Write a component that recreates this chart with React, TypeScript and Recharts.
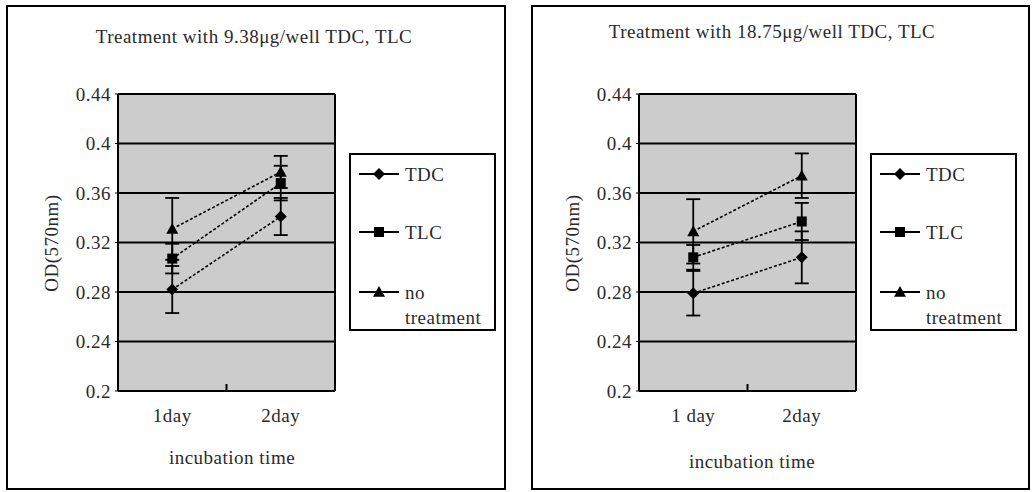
import React from 'react';
import * as R from 'recharts';

const { LineChart, Line, XAxis, YAxis, CartesianGrid, ErrorBar, Legend, Customized } = R as any;

// ---------- data ----------
const yTicks = [0.2, 0.24, 0.28, 0.32, 0.36, 0.4, 0.44];
const seriesKeys = ['tdc', 'tlc', 'nt'];
const seriesNames = ['TDC', 'TLC', 'no treatment'];

const leftTitle = 'Treatment with 9.38μg/well TDC, TLC';
const leftCategories = ['1day', '2day'];
const leftTDC = [0.282, 0.341];
const leftTDCErr = [0.019, 0.015];
const leftTLC = [0.307, 0.368];
const leftTLCErr = [0.012, 0.014];
const leftNT = [0.331, 0.377];
const leftNTErr = [0.025, 0.013];

const rightTitle = 'Treatment with 18.75μg/well TDC, TLC';
const rightCategories = ['1 day', '2day'];
const rightTDC = [0.279, 0.308];
const rightTDCErr = [0.018, 0.021];
const rightTLC = [0.308, 0.337];
const rightTLCErr = [0.01, 0.015];
const rightNT = [0.329, 0.374];
const rightNTErr = [0.026, 0.018];

const yLabel = 'OD(570nm)';
const xLabel = 'incubation time';

function buildRows(cats: string[], tdc: number[], tdcE: number[], tlc: number[], tlcE: number[], nt: number[], ntE: number[]) {
  return cats.map((c, i) => ({
    cat: c,
    tdc: tdc[i], tdcErr: tdcE[i],
    tlc: tlc[i], tlcErr: tlcE[i],
    nt: nt[i], ntErr: ntE[i],
  }));
}

const leftRows = buildRows(leftCategories, leftTDC, leftTDCErr, leftTLC, leftTLCErr, leftNT, leftNTErr);
const rightRows = buildRows(rightCategories, rightTDC, rightTDCErr, rightTLC, rightTLCErr, rightNT, rightNTErr);

// ---------- styles ----------
const FONT = '"Liberation Serif", "Times New Roman", serif';
const TEXT = '#2a2a2a';
const FS = 19;
const LS = 0.5;

function Marker({ kind, cx, cy }: { kind: string; cx: number; cy: number }) {
  if (cx == null || cy == null) return null;
  if (kind === 'tdc') {
    const s = 6;
    return <polygon points={`${cx},${cy - s} ${cx + s},${cy} ${cx},${cy + s} ${cx - s},${cy}`} fill="#000" />;
  }
  if (kind === 'tlc') {
    const s = 5;
    return <rect x={cx - s} y={cy - s} width={2 * s} height={2 * s} fill="#000" />;
  }
  const s = 6;
  return <polygon points={`${cx},${cy - s} ${cx + s},${cy + s * 0.8} ${cx - s},${cy + s * 0.8}`} fill="#000" />;
}

const usePlotAreaHook: any = (R as any).usePlotArea;

function MidTicks({ count }: { count: number }) {
  const pa = usePlotAreaHook ? usePlotAreaHook() : null;
  if (!pa) return null;
  const out: any[] = [];
  for (let i = 1; i < count; i++) {
    const x = pa.x + (pa.width * i) / count;
    out.push(
      <line key={i} x1={x} x2={x} y1={pa.y + pa.height} y2={pa.y + pa.height - 7} stroke="#000" strokeWidth={2} />
    );
  }
  return <g>{out}</g>;
}

function LegendBox({ payload }: any) {
  const rowsTop = [19, 77, 137];
  const items = (payload || []).filter((p: any) => seriesKeys.includes(p.dataKey));
  return (
    <div
      style={{
        width: 147,
        height: 178,
        border: '2px solid #000',
        boxSizing: 'border-box',
        background: '#fff',
        position: 'relative',
        fontFamily: FONT,
        fontSize: FS,
        letterSpacing: LS,
        color: TEXT,
      }}
    >
      {items.map((p: any) => {
        const key = p.dataKey;
        const idx = seriesKeys.indexOf(key);
        return (
          <div key={key} style={{ position: 'absolute', left: 7, top: rowsTop[idx] - 12, height: 24, display: 'flex' }}>
            <svg width={42} height={24} style={{ display: 'block' }}>
              <line x1={1} x2={41} y1={12} y2={12} stroke="#000" strokeWidth={2} />
              <Marker kind={key} cx={21} cy={12} />
            </svg>
            <div style={{ marginLeft: 5, lineHeight: '25px', width: 88 }}>
              {key === 'nt' ? (
                <>
                  <div>no</div>
                  <div>treatment</div>
                </>
              ) : (
                p.value
              )}
            </div>
          </div>
        );
      })}
    </div>
  );
}

type PanelProps = {
  left: number;
  width: number;
  plotLeft: number;
  plotRight: number;
  rows: any[];
  title: string;
  titlePos: [number, number];
  yLabelPos: [number, number];
  xLabelPos: [number, number];
  legendLeft: number;
};

const textStyle: React.CSSProperties = {
  position: 'absolute',
  whiteSpace: 'nowrap',
  fontFamily: FONT,
  fontSize: FS,
  letterSpacing: LS,
  color: TEXT,
};

function Panel(p: PanelProps) {
  const height = 485;
  const plotTop = 89;
  const plotBottom = 386;
  const YW = 60;
  const XH = 40;
  const tickStyle = { fill: TEXT, fontSize: FS, fontFamily: FONT, letterSpacing: LS };
  return (
    <div style={{ position: 'absolute', left: p.left, top: 5, width: p.width, height, background: '#fff' }}>
      <div
        style={{
          position: 'absolute',
          left: 0,
          top: 0,
          width: p.width,
          height,
          border: '2px solid #000',
          boxSizing: 'border-box',
        }}
      />
      <div style={{ position: 'absolute', left: 0, top: 0 }}>
        <LineChart
          width={p.width}
          height={height}
          data={p.rows}
          margin={{ top: plotTop, right: p.width - p.plotRight, left: p.plotLeft - YW, bottom: height - plotBottom - XH }}
        >
          <CartesianGrid
            fill="#cccccc"
            stroke="#000"
            strokeWidth={2}
            strokeOpacity={1}
            fillOpacity={1}
            verticalCoordinatesGenerator={({ offset }: any) => [offset.left, offset.left + offset.width]}
          />
          <XAxis
            dataKey="cat"
            scale="band"
            height={XH}
            axisLine={{ stroke: '#000', strokeWidth: 2 }}
            tickLine={false}
            tickMargin={12}
            tick={tickStyle}
          />
          <YAxis
            type="number"
            domain={[0.2, 0.44]}
            ticks={yTicks}
            interval={0}
            width={YW}
            axisLine={{ stroke: '#000', strokeWidth: 2 }}
            tickLine={{ stroke: '#000', strokeWidth: 1 }}
            tickSize={3}
            tickMargin={4}
            tick={tickStyle}
            tickFormatter={(v: number) => String(v)}
          />
          <Customized component={<MidTicks count={p.rows.length} />} />
          {seriesKeys.map((k, i) => (
            <Line
              key={k}
              dataKey={k}
              name={seriesNames[i]}
              stroke="#000"
              strokeWidth={1.6}
              strokeDasharray="3 2"
              isAnimationActive={false}
              activeDot={false}
              dot={(d: any) => <Marker key={`${k}-${d.index}`} kind={k} cx={d.cx} cy={d.cy} />}
            >
              <ErrorBar dataKey={`${k}Err`} width={7} stroke="#000" strokeWidth={1.8} direction="y" isAnimationActive={false} />
            </Line>
          ))}
          <Legend
            layout="vertical"
            align="center"
            verticalAlign="middle"
            width={147}
            height={178}
            wrapperStyle={{ left: p.legendLeft, top: 148, width: 147, height: 178 }}
            content={(props: any) => <LegendBox {...props} />}
          />
        </LineChart>
      </div>
      <div style={{ ...textStyle, left: p.titlePos[0], top: p.titlePos[1], transform: 'translate(-50%, -50%)' }}>
        {p.title}
      </div>
      <div
        style={{
          ...textStyle,
          left: p.yLabelPos[0],
          top: p.yLabelPos[1],
          transform: 'translate(-50%, -50%) rotate(-90deg)',
        }}
      >
        {yLabel}
      </div>
      <div style={{ ...textStyle, left: p.xLabelPos[0], top: p.xLabelPos[1], transform: 'translate(-50%, -50%)' }}>
        {xLabel}
      </div>
    </div>
  );
}

export default function App() {
  return (
    <div style={{ position: 'absolute', left: 0, top: 0, width: 1033, height: 492, background: '#fff' }}>
      <Panel
        left={6}
        width={500}
        plotLeft={112}
        plotRight={329}
        rows={leftRows}
        title={leftTitle}
        titlePos={[248, 32]}
        yLabelPos={[46, 238]}
        xLabelPos={[226, 453]}
        legendLeft={343}
      />
      <Panel
        left={531}
        width={499}
        plotLeft={108}
        plotRight={325}
        rows={rightRows}
        title={rightTitle}
        titlePos={[241, 27]}
        yLabelPos={[42, 238]}
        xLabelPos={[221, 457]}
        legendLeft={339}
      />
    </div>
  );
}
